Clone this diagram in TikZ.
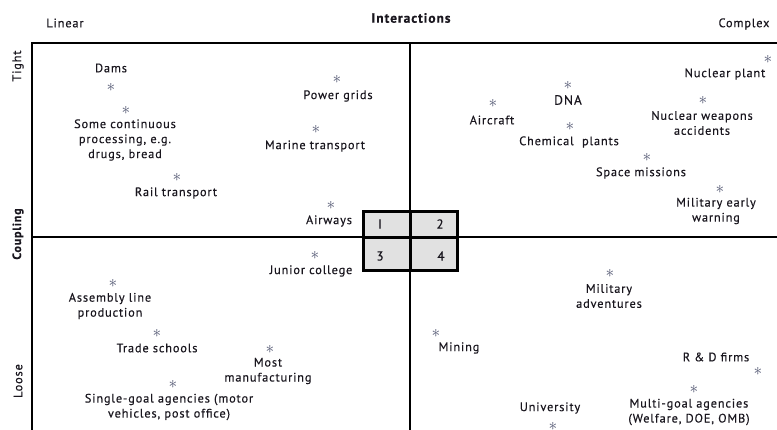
\documentclass[tikz,border=0pt]{standalone}
\usepackage{fontspec}
\setmainfont{PT Sans}[LetterSpace=7, FakeBold=0.35]
\begin{document}
\definecolor{ink}{RGB}{25,22,30}
\definecolor{mark}{RGB}{80,85,112}
\definecolor{cellfill}{RGB}{225,225,225}
\begin{tikzpicture}[x=1pt,y=-1pt,
  lbl/.style={font=\fontsize{12.3}{15}\selectfont, text=ink, align=center, inner sep=0pt},
  head/.style={font=\fontsize{13.5}{15}\selectfont\bfseries, text=ink, inner sep=0pt},
  axislbl/.style={font=\fontsize{12.3}{14}\selectfont, text=ink, inner sep=0pt},
  pt/.style={font=\fontsize{16}{16}\selectfont, text=mark, inner sep=0pt},
  frame/.style={line width=1.6pt, draw=black},
  cell/.style={line width=3pt, draw=black, fill=cellfill},
  num/.style={font=\fontsize{13}{14}\selectfont, text=ink, inner sep=0pt}]
\useasboundingbox (0,0) rectangle (777,430);

% axis headings
\node[axislbl] (linear) at (65,23) {Linear};
\node[head] (inter) at (411,18) {Interactions};
\node[axislbl] (complex) at (744,24) {Complex};
\node[axislbl, rotate=90] (tight) at (18,66) {Tight};
\node[head, rotate=90, font=\fontsize{12}{14}\selectfont\bfseries] (coupling) at (18,234) {Coupling};
\node[axislbl, rotate=90] (loose) at (18,381) {Loose};

% frame and quadrant dividers
\coordinate (tl) at (32,43);
\coordinate (tr) at (777,43);
\coordinate (bl) at (32,430);
\coordinate (mt) at (410,43);
\coordinate (mb) at (410,430);
\coordinate (ml) at (32,237);
\coordinate (mr) at (777,237);
\draw[frame] (tr) -- (tl) -- (bl);
\draw[frame] (mt) -- (mb);
\draw[frame] (ml) -- (mr);

% central key of the four cells
\draw[cell] (363.5,211.5) rectangle (457.5,270.5);
\draw[line width=3pt] (410,211.5) -- (410,270.5);
\draw[line width=3pt] (363.5,238) -- (457.5,238);
\node[num] (n1) at (380,224) {I};
\node[num] (n2) at (440,224) {2};
\node[num] (n3) at (380,256) {3};
\node[num] (n4) at (441,256) {4};

% cell 1: linear, tight
\node[lbl] (dams) at (111,68) {Dams};
\node[pt] (sdams) at (111,87) {$\ast$};
\node[pt] (sproc) at (126,110) {$\ast$};
\node[lbl] (proc) at (125,140) {Some continuous\\processing, e.g.\\drugs, bread};
\node[pt] (srail) at (177,177) {$\ast$};
\node[lbl] (rail) at (176,193) {Rail transport};
\node[pt] (spower) at (337,79) {$\ast$};
\node[lbl] (power) at (338,96) {Power grids};
\node[pt] (smarine) at (316,129) {$\ast$};
\node[lbl] (marine) at (315,146) {Marine transport};
\node[pt] (sair) at (331,205) {$\ast$};
\node[lbl] (airways) at (329,221) {Airways};

% cell 2: complex, tight
\node[pt] (saircraft) at (493,103) {$\ast$};
\node[lbl] (aircraft) at (492,120) {Aircraft};
\node[pt] (sdna) at (568,85) {$\ast$};
\node[lbl, font=\fontsize{13.5}{15}\selectfont] (dna) at (568,100) {DNA};
\node[pt] (schem) at (570,126) {$\ast$};
\node[lbl] (chem) at (569,142) {Chemical\ \ plants};
\node[pt] (snuc) at (768,59) {$\ast$};
\node[lbl] (nuc) at (725,74) {Nuclear plant};
\node[pt] (sweap) at (703,100) {$\ast$};
\node[lbl] (weap) at (702,123) {Nuclear weapons\\accidents};
\node[pt] (sspace) at (647,157) {$\ast$};
\node[lbl] (space) at (641,173) {Space missions};
\node[pt] (swarn) at (720,189) {$\ast$};
\node[lbl] (warn) at (716,211) {Military early\\warning};

% cell 3: linear, loose
\node[pt] (sjunior) at (315,255) {$\ast$};
\node[lbl] (junior) at (311,271) {Junior college};
\node[pt] (sassem) at (113,283) {$\ast$};
\node[lbl] (assem) at (110,306) {Assembly line\\production};
\node[pt] (strade) at (157,333) {$\ast$};
\node[lbl] (trade) at (157,348) {Trade schools};
\node[pt] (smanu) at (270,349) {$\ast$};
\node[lbl] (manu) at (268,371) {Most\\manufacturing};
\node[pt] (ssingle) at (173,384) {$\ast$};
\node[lbl] (single) at (169,407) {Single-goal agencies (motor\\vehicles, post office)};

% cell 4: complex, loose
\node[pt] (smil) at (610,273) {$\ast$};
\node[lbl] (mil) at (609,296) {Military\\adventures};
\node[pt] (smining) at (436,333) {$\ast$};
\node[lbl] (mining) at (459,348) {Mining};
\node[lbl] (rd) at (716,357) {R \& D firms};
\node[pt] (srd) at (758,371) {$\ast$};
\node[pt] (smulti) at (694,389) {$\ast$};
\node[lbl] (multi) at (689,412) {Multi-goal agencies\\(Welfare, DOE, OMB)};
\node[lbl] (univ) at (550,408) {University};
\node[pt] (suniv) at (553,426) {$\ast$};
\end{tikzpicture}
\end{document}
